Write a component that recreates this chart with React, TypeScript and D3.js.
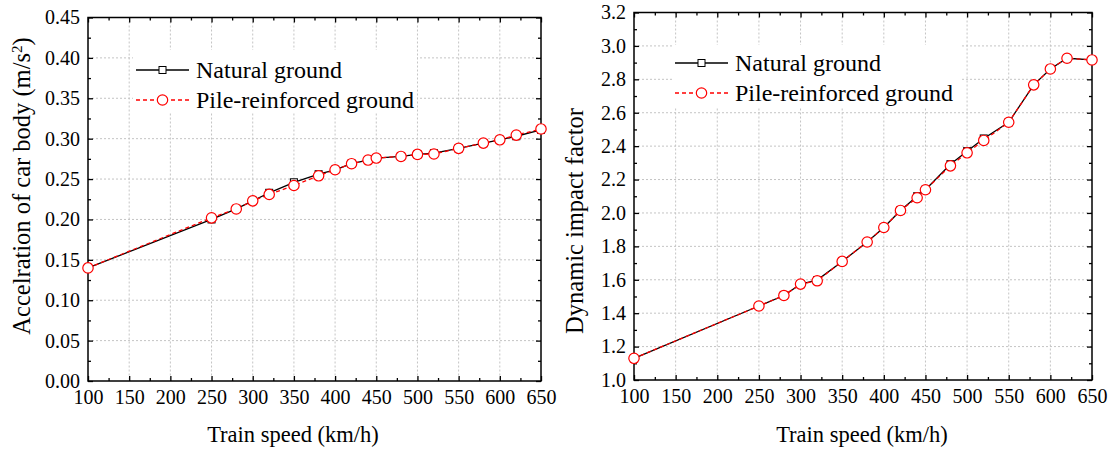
import React, { useEffect, useRef } from 'react';
import * as d3 from 'd3';

// train speeds (km/h) shared by both panels
const speeds = [100, 250, 280, 300, 320, 350, 380, 400, 420, 440, 450, 480, 500, 520, 550, 580, 600, 620, 650];

// acceleration of car body (m/s^2)
const accNatural = [0.140, 0.200, 0.213, 0.223, 0.233, 0.246, 0.256, 0.2615, 0.269, 0.2735, 0.276, 0.278, 0.2805, 0.282, 0.288, 0.2945, 0.2986, 0.303, 0.311];
const accPile = [0.140, 0.202, 0.213, 0.223, 0.231, 0.242, 0.254, 0.2615, 0.269, 0.2735, 0.276, 0.278, 0.2805, 0.281, 0.288, 0.2945, 0.2986, 0.3044, 0.312];

// dynamic impact factor
const difNatural = [1.13, 1.443, 1.506, 1.574, 1.598, 1.71, 1.826, 1.913, 2.015, 2.10, 2.139, 2.292, 2.37, 2.446, 2.543, 2.767, 2.862, 2.926, 2.916];
const difPile = [1.13, 1.443, 1.506, 1.574, 1.594, 1.71, 1.826, 1.913, 2.015, 2.091, 2.139, 2.282, 2.36, 2.434, 2.543, 2.767, 2.862, 2.926, 2.916];

const seriesNames = ['Natural ground', 'Pile-reinforced ground'];
const xTicks = [100, 150, 200, 250, 300, 350, 400, 450, 500, 550, 600, 650];
const accTicks = [0, 0.05, 0.1, 0.15, 0.2, 0.25, 0.3, 0.35, 0.4, 0.45];
const difTicks = [1.0, 1.2, 1.4, 1.6, 1.8, 2.0, 2.2, 2.4, 2.6, 2.8, 3.0, 3.2];

const FONT = '"Liberation Serif", "Times New Roman", serif';

type PanelOpts = {
  left: number; right: number; top: number; bottom: number;
  yDomain: [number, number];
  yTicks: number[];
  yFormat: string;
  natural: number[];
  pile: number[];
  yTitle: string;
  ySup?: string;
  yTitleX: number; yTitleY: number;
  xTitleX: number;
  legend: { x: number; y: number; boxX: number; boxY: number; boxW: number; boxH: number };
};

function drawPanel(svg: d3.Selection<SVGSVGElement, unknown, null, undefined>, o: PanelOpts) {
  const x = d3.scaleLinear().domain([100, 650]).range([o.left, o.right]);
  const y = d3.scaleLinear().domain(o.yDomain).range([o.bottom, o.top]);
  const g = svg.append('g');

  // grid
  const grid = g.append('g').attr('stroke', '#c4c4c4').attr('stroke-width', 1).attr('stroke-dasharray', '2,2');
  xTicks.slice(1, -1).forEach(t => {
    grid.append('line').attr('x1', x(t)).attr('x2', x(t)).attr('y1', o.top).attr('y2', o.bottom);
  });
  o.yTicks.slice(1, -1).forEach(t => {
    grid.append('line').attr('x1', o.left).attr('x2', o.right).attr('y1', y(t)).attr('y2', y(t));
  });

  // legend background hides grid
  g.append('rect')
    .attr('x', o.legend.boxX).attr('y', o.legend.boxY)
    .attr('width', o.legend.boxW).attr('height', o.legend.boxH)
    .attr('fill', 'white');

  const step = o.yTicks[1] - o.yTicks[0];
  const yMinor = o.yTicks.slice(0, -1).map(t => t + step / 2);
  const xMinor = xTicks.slice(0, -1).map(t => t + 25);

  const styleAxis = (sel: d3.Selection<SVGGElement, unknown, null, undefined>) => {
    sel.select('.domain').remove();
    sel.selectAll('line').attr('stroke', '#000').attr('stroke-width', 1.3);
    sel.selectAll('text').attr('font-family', FONT).attr('font-size', 20).attr('fill', '#000');
  };

  g.append('g').attr('transform', `translate(0,${o.bottom})`)
    .call(d3.axisBottom(x).tickValues(xTicks).tickSize(-5).tickPadding(9).tickFormat(d3.format('d')))
    .call(styleAxis);
  g.append('g').attr('transform', `translate(0,${o.bottom})`)
    .call(d3.axisBottom(x).tickValues(xMinor).tickSize(-3).tickFormat(() => ''))
    .call(styleAxis);
  g.append('g').attr('transform', `translate(0,${o.top})`)
    .call(d3.axisTop(x).tickValues(xTicks).tickSize(-5).tickFormat(() => ''))
    .call(styleAxis);
  g.append('g').attr('transform', `translate(0,${o.top})`)
    .call(d3.axisTop(x).tickValues(xMinor).tickSize(-3).tickFormat(() => ''))
    .call(styleAxis);

  g.append('g').attr('transform', `translate(${o.left},0)`)
    .call(d3.axisLeft(y).tickValues(o.yTicks).tickSize(-5).tickPadding(8).tickFormat(d3.format(o.yFormat)))
    .call(styleAxis);
  g.append('g').attr('transform', `translate(${o.left},0)`)
    .call(d3.axisLeft(y).tickValues(yMinor).tickSize(-3).tickFormat(() => ''))
    .call(styleAxis);
  g.append('g').attr('transform', `translate(${o.right},0)`)
    .call(d3.axisRight(y).tickValues(o.yTicks).tickSize(-5).tickFormat(() => ''))
    .call(styleAxis);
  g.append('g').attr('transform', `translate(${o.right},0)`)
    .call(d3.axisRight(y).tickValues(yMinor).tickSize(-3).tickFormat(() => ''))
    .call(styleAxis);

  // frame
  g.append('rect')
    .attr('x', o.left).attr('y', o.top)
    .attr('width', o.right - o.left).attr('height', o.bottom - o.top)
    .attr('fill', 'none').attr('stroke', '#000').attr('stroke-width', 1.5);

  const line = d3.line<number>().x((_, i) => x(speeds[i])).y(d => y(d));

  // natural ground: black solid with squares
  g.append('path').datum(o.natural).attr('d', line)
    .attr('fill', 'none').attr('stroke', '#000').attr('stroke-width', 1.3);
  g.selectAll('.sq').data(o.natural).enter().append('rect')
    .attr('x', (_, i) => x(speeds[i]) - 3.5).attr('y', d => y(d) - 3.5)
    .attr('width', 7).attr('height', 7)
    .attr('fill', '#fff').attr('stroke', '#000').attr('stroke-width', 1);

  // pile-reinforced: red dashed with circles
  g.append('path').datum(o.pile).attr('d', line)
    .attr('fill', 'none').attr('stroke', '#ff0000').attr('stroke-width', 1.3).attr('stroke-dasharray', '4,3');
  g.selectAll('.ci').data(o.pile).enter().append('circle')
    .attr('cx', (_, i) => x(speeds[i])).attr('cy', d => y(d)).attr('r', 5.2)
    .attr('fill', '#fff').attr('stroke', '#ff0000').attr('stroke-width', 1.2);

  // legend
  const lg = g.append('g').attr('transform', `translate(${o.legend.x},${o.legend.y})`);
  const rowH = 30;
  seriesNames.forEach((name, i) => {
    const ry = i * rowH;
    const row = lg.append('g').attr('transform', `translate(0,${ry})`);
    row.append('line').attr('x1', 0).attr('x2', 53).attr('y1', 0).attr('y2', 0)
      .attr('stroke', i === 0 ? '#000' : '#ff0000').attr('stroke-width', 1.3)
      .attr('stroke-dasharray', i === 0 ? null : '4,3');
    if (i === 0) {
      row.append('rect').attr('x', 23).attr('y', -3.5).attr('width', 7).attr('height', 7)
        .attr('fill', '#fff').attr('stroke', '#000');
    } else {
      row.append('circle').attr('cx', 26.5).attr('cy', 0).attr('r', 5.2)
        .attr('fill', '#fff').attr('stroke', '#ff0000').attr('stroke-width', 1.2);
    }
    row.append('text').attr('x', 60).attr('y', 8)
      .attr('font-family', FONT).attr('font-size', 24).attr('fill', '#000')
      .text(name);
  });

  // axis titles
  g.append('text')
    .attr('x', o.xTitleX).attr('y', 442)
    .attr('text-anchor', 'middle')
    .attr('font-family', FONT).attr('font-size', 22.5)
    .text('Train speed (km/h)');

  const yt = g.append('text')
    .attr('transform', `translate(${o.yTitleX},${o.yTitleY}) rotate(-90)`)
    .attr('text-anchor', 'middle')
    .attr('font-family', FONT).attr('font-size', 24.5);
  yt.append('tspan').text(o.yTitle);
  if (o.ySup) {
    yt.append('tspan').attr('baseline-shift', 'super').attr('font-size', 15).text(o.ySup);
    yt.append('tspan').text(')');
  }
}

export default function App() {
  const svgRef = useRef<SVGSVGElement>(null);

  useEffect(() => {
    const svg = d3.select(svgRef.current!);
    svg.selectAll('*').remove();

    drawPanel(svg, {
      left: 88, right: 541, top: 17.5, bottom: 381,
      yDomain: [0, 0.45], yTicks: accTicks, yFormat: '.2f',
      natural: accNatural, pile: accPile,
      yTitle: 'Accelration of car body (m/s', ySup: '2',
      yTitleX: 30, yTitleY: 186,
      xTitleX: 293,
      legend: { x: 136, y: 70, boxX: 133, boxY: 50, boxW: 284, boxH: 62 },
    });

    drawPanel(svg, {
      left: 634, right: 1092, top: 12.5, bottom: 380,
      yDomain: [1.0, 3.2], yTicks: difTicks, yFormat: '.1f',
      natural: difNatural, pile: difPile,
      yTitle: 'Dynamic impact factor',
      yTitleX: 583, yTitleY: 221,
      xTitleX: 862,
      legend: { x: 675, y: 63, boxX: 672, boxY: 45, boxW: 288, boxH: 62 },
    });
  }, []);

  return (
    <svg
      ref={svgRef}
      width={1114}
      height={450}
      style={{ position: 'absolute', left: 0, top: 0, background: '#fff' }}
    />
  );
}
